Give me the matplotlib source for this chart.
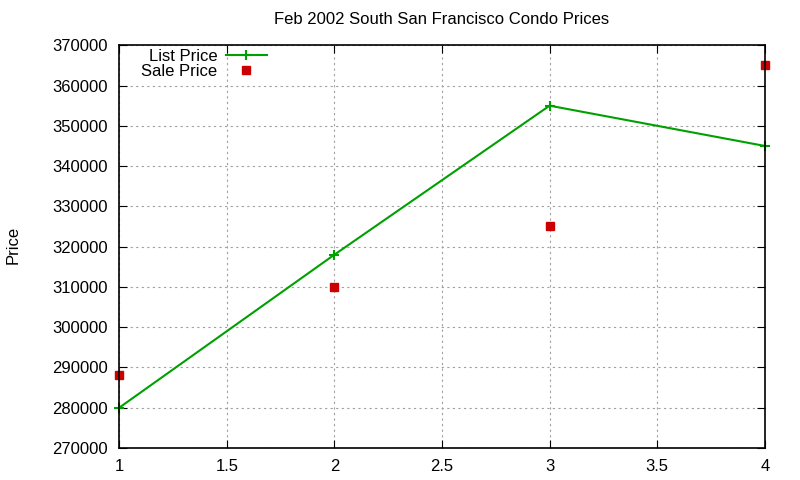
import numpy as np
import matplotlib
matplotlib.use('Agg')
import matplotlib.pyplot as plt

months = [1, 2, 3, 4]
list_price = [280000, 318000, 355000, 345000]
sale_price = [288000, 310000, 325000, 365000]

plt.rcParams['font.family'] = 'Liberation Sans'
plt.rcParams['font.size'] = 12

fig = plt.figure(figsize=(8, 4.8), dpi=100)
ax = fig.add_axes([0.149, 0.0667, 0.807, 0.839])

ax.plot(months, list_price, c='#00a000', lw=1.5, marker='+', ms=7, mew=1.5,
        label='List Price', clip_on=False)
ax.plot(months, sale_price, c='#cc0000', ls='none', marker='s', ms=5.5,
        label='Sale Price', clip_on=False)

ax.set_xlim(1, 4)
ax.set_ylim(270000, 370000)
ax.set_xticks(np.arange(1, 4.01, 0.5))
ax.set_xticklabels(['1', '1.5', '2', '2.5', '3', '3.5', '4'])
ax.set_yticks(np.arange(270000, 370001, 10000))
ax.set_yticklabels([str(v) for v in range(270000, 370001, 10000)])
ax.tick_params(direction='in', top=True, right=True, length=6, labelsize=12, pad=8)
ax.grid(True, ls=(0, (2, 3)), color='#a0a0a0', lw=0.8)
for s in ax.spines.values():
    s.set_linewidth(1.2)

ax.set_title('Feb 2002 South San Francisco Condo Prices', fontsize=12, pad=15)
fig.text(0.016, 0.49, 'Price', rotation=90, ha='center', va='center', fontsize=12)

leg = ax.legend(loc='upper left', bbox_to_anchor=(0.016, 1.02), markerfirst=False,
                frameon=False, handlelength=2.5, handletextpad=0.5, labelspacing=0.0,
                fontsize=12, borderaxespad=0.3)

fig.savefig('out.png', dpi=100)
